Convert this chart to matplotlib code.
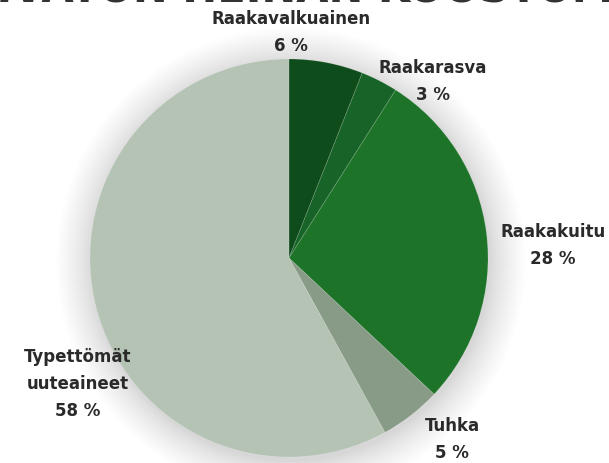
import matplotlib
matplotlib.use("Agg")
import matplotlib.pyplot as plt
from matplotlib.patches import Circle

categories = ["Raakavalkuainen", "Raakarasva", "Raakakuitu", "Tuhka", "Typettömät\nuuteaineet"]
shares = [6, 3, 28, 5, 58]
colors = ["#0f4c1c", "#186428", "#1d7429", "#889b87", "#b5c3b5"]

W, H = 609, 464
fig = plt.figure(figsize=(W / 100, H / 100), dpi=100)
ax = fig.add_axes([0, 0, 1, 1])
ax.set_xlim(0, W)
ax.set_ylim(0, H)
ax.set_aspect("equal")
ax.axis("off")

cx, cy, r = 289, H - 259, 199

# soft halo behind the pie
n = 40
for i in range(n):
    rr = r + 36 * (1 - i / n) ** 1.3
    ax.add_patch(Circle((cx + 2, cy - 4), rr, color="#000000", alpha=0.0045, lw=0, zorder=0))

ax.pie(shares, colors=colors, startangle=90, counterclock=False,
       center=(cx, cy), radius=r, frame=True,
       wedgeprops=dict(linewidth=0.6, edgecolor=(1, 1, 1, 0.15)))
ax.set_xlim(0, W)
ax.set_ylim(0, H)
ax.axis("off")

# heading, mostly outside the top edge
ax.text(W / 2, H - 1.5, "KUIVATUN HEINÄN KOOSTUMUS", ha="center", va="baseline",
        fontsize=30, fontweight="bold", color="#333333", family="DejaVu Sans Condensed")

label_pos = [(291, 19), (433, 68), (553, 232), (452, 426), (78, 357)]
font = dict(fontsize=12, fontweight="bold", color="#2a2a2a", ha="center", va="center",
            family=["Liberation Sans Narrow", "DejaVu Sans Condensed", "DejaVu Sans"])
for name, val, (x, y) in zip(categories, shares, label_pos):
    lines = name.split("\n") + [f"{val} %"]
    for k, line in enumerate(lines):
        ax.text(x, H - (y + 27 * k), line, **font)

fig.savefig("out.png", dpi=100)
